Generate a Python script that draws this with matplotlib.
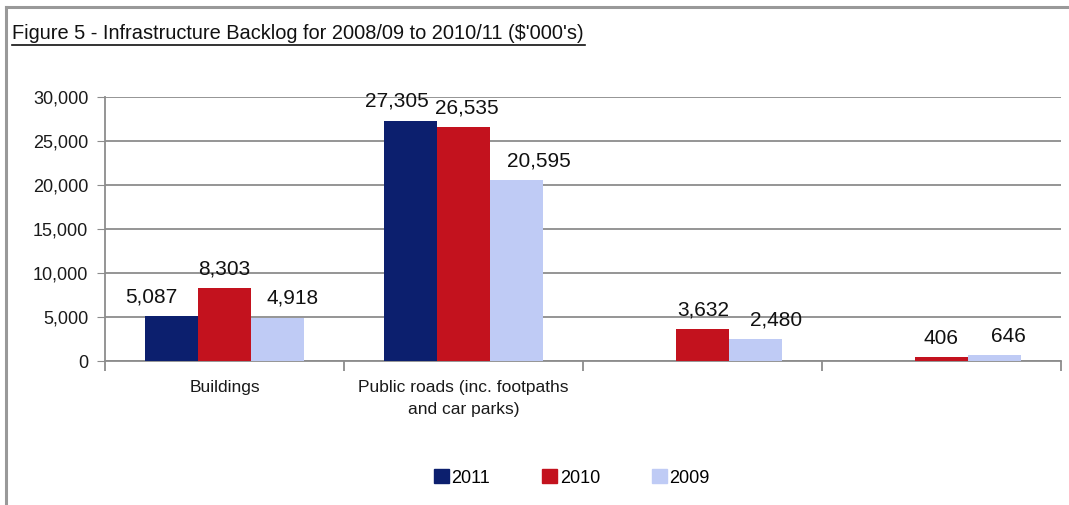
import numpy as np
import matplotlib
matplotlib.use("Agg")
import matplotlib.pyplot as plt
from matplotlib.lines import Line2D
from matplotlib.patches import Patch

plt.rcParams['font.family'] = ['Liberation Sans', 'DejaVu Sans']

# 数据
categories = ["Buildings", "Public roads (inc. footpaths\nand car parks)", "", ""]
years = ["2011", "2010", "2009"]
v2011 = [5087, 27305, np.nan, np.nan]
v2010 = [8303, 26535, 3632, 406]
v2009 = [4918, 20595, 2480, 646]
y_ticks = [0, 5000, 10000, 15000, 20000, 25000, 30000]

colors = ["#0C1F6E", "#C3121E", "#BFCBF5"]
# 数据标签的水平偏移 (像素)
label_dx = [[-20, -14, 0, 0], [0, 3, 1, 0], [15, 22, 21, 14]]

W, H = 1069, 505
fig = plt.figure(figsize=(W / 100, H / 100), dpi=100)
ax = fig.add_axes([105 / W, 1 - 361 / H, (1061 - 105) / W, (361 - 97) / H])

x = np.arange(len(categories))
bw = 53 / 239
series = [v2011, v2010, v2009]
for k, vals in enumerate(series):
    xs = x + (k - 1) * bw
    ax.bar(xs, vals, width=bw, color=colors[k], zorder=3)
    for i, v in enumerate(vals):
        if np.isnan(v):
            continue
        ax.annotate(f"{int(v):,}", (xs[i], v), xytext=(label_dx[k][i] * 0.72, 7),
                    textcoords="offset points", ha="center", va="bottom",
                    fontsize=15, color="#111111")

ax.set_xlim(-0.5, len(categories) - 0.5)
ax.set_ylim(0, 30000)
ax.set_yticks(y_ticks)
ax.set_yticklabels([f"{t:,}" for t in y_ticks])
ax.yaxis.grid(True, color="#8c8c8c", linewidth=1.3, zorder=0)
ax.tick_params(axis="y", length=6, color="#8c8c8c", labelsize=13, labelcolor="#1a1a1a", pad=6)

ax.set_xticks(np.arange(len(categories) + 1) - 0.5)
ax.set_xticklabels([])
ax.set_xticks(x, minor=True)
ax.set_xticklabels(categories, minor=True, fontsize=12.5, color="#1a1a1a", linespacing=1.55)
ax.tick_params(axis="x", which="major", length=7, color="#8c8c8c", width=1.3)
ax.tick_params(axis="x", which="minor", length=0, pad=14)

for s in ["top", "right"]:
    ax.spines[s].set_visible(False)
for s in ["left", "bottom"]:
    ax.spines[s].set_color("#8c8c8c")
    ax.spines[s].set_linewidth(1.3)

# 图例
handles = [Patch(color=c) for c in colors]
fig.legend(handles, years, loc="center", bbox_to_anchor=(572 / W, 1 - 478 / H),
           ncol=3, frameon=False, fontsize=13, handlelength=0.8, handleheight=0.8,
           handletextpad=0.15, columnspacing=2.9)

# 标题
fig.text(12 / W, 1 - 33 / H, "Figure 5 - Infrastructure Backlog for 2008/09 to 2010/11 ($'000's)",
         fontsize=14.4, va="center", ha="left", color="#111111")
fig.add_artist(Line2D([12 / W, 585 / W], [1 - 45 / H, 1 - 45 / H], color="#111111", linewidth=1.2))

# 外框
fig.add_artist(Line2D([6 / W, 6 / W], [0, 1 - 7 / H], color="#999999", linewidth=2.2))
fig.add_artist(Line2D([6 / W, 1], [1 - 7 / H, 1 - 7 / H], color="#999999", linewidth=2.2))

fig.savefig("out.png", dpi=100)
